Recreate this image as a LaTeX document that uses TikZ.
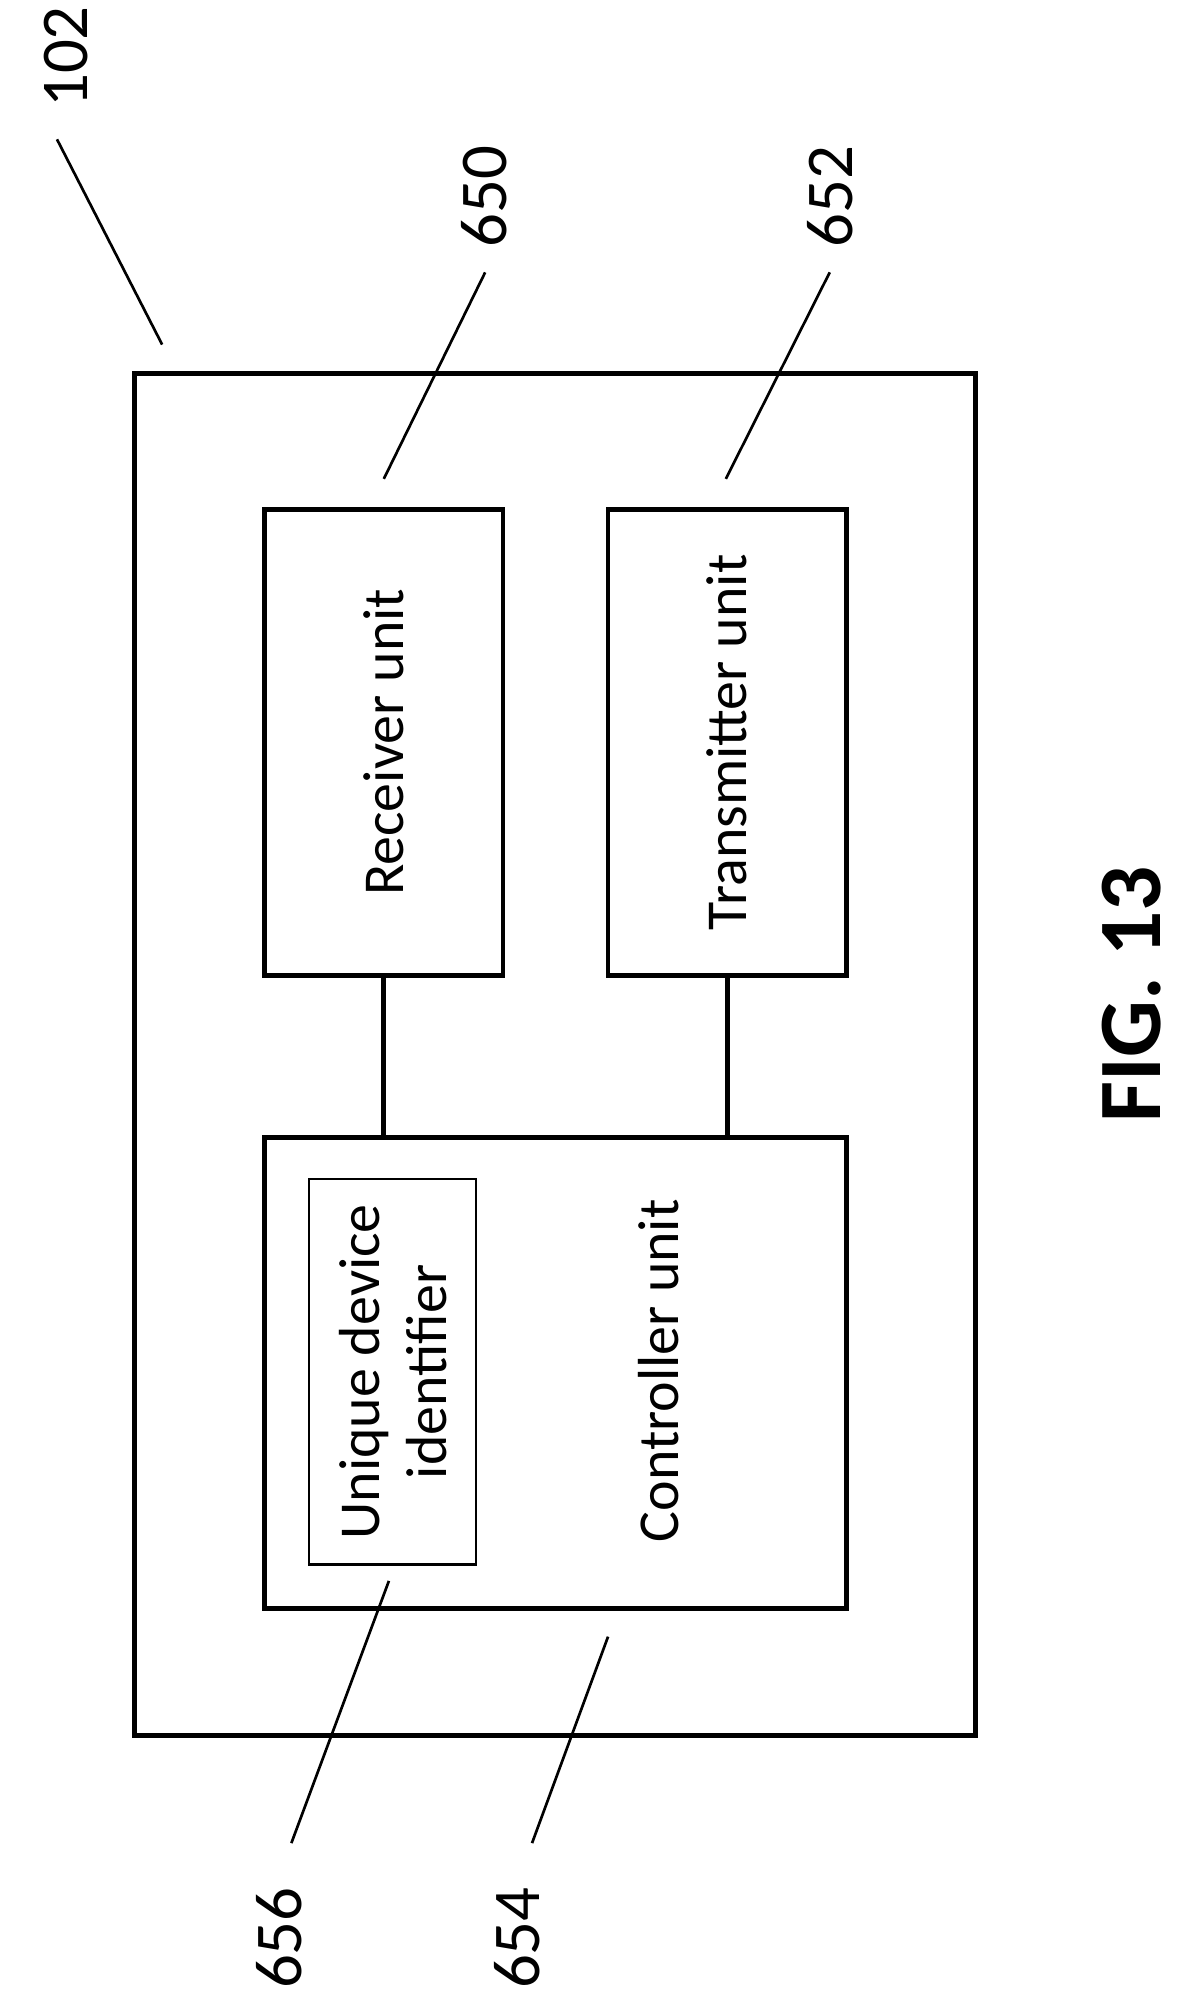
\documentclass[tikz,border=0pt]{standalone}
\usepackage{fontspec}
\setmainfont{Carlito}
\usetikzlibrary{positioning}
\tikzset{
  frame/.style={draw=black, line width=1.1pt},
  inner/.style={draw=black, line width=0.5pt},
  link/.style={draw=black, line width=1.1pt},
  lead/.style={draw=black, line width=0.6pt},
  txt/.style={rotate=90, font=\fontsize{13}{15}\selectfont, align=center},
  num/.style={rotate=90, font=\fontsize{15}{17}\selectfont}
}
\begin{document}
\begin{tikzpicture}[x=0.01cm, y=-0.01cm]
  \useasboundingbox (0,0) rectangle (940,1582);
  % outer device
  \draw[frame] (106,295) rectangle (770,1370);
  % blocks
  \node[frame, minimum width=1.88cm, minimum height=3.68cm] (rx) at (303,586) {};
  \node[txt] at (rx) {Receiver unit};
  \node[frame, minimum width=1.88cm, minimum height=3.68cm] (tx) at (574,586) {};
  \node[txt] at (tx) {Transmitter unit};
  \node[frame, minimum width=4.59cm, minimum height=3.72cm] (ctl) at (438.5,1084) {};
  \node[txt] at (520,1082) {Controller unit};
  \node[inner, minimum width=1.32cm, minimum height=3.04cm] (uid) at (310,1083) {};
  \node[txt] at (uid) {Unique device\\identifier};
  % connectors
  \draw[link] (rx.south) -- (rx.south |- ctl.north);
  \draw[link] (tx.south) -- (tx.south |- ctl.north);
  % reference numerals
  \node[num] (n102) at (52,45) {102};
  \node[num] (n650) at (382,155) {650};
  \node[num] (n652) at (655,155) {652};
  \node[num] (n656) at (220,1530) {656};
  \node[num] (n654) at (408,1530) {654};
  \coordinate (e102) at (128,272);
  \coordinate (e650) at (303,378);
  \coordinate (e652) at (573,378);
  \coordinate (e656) at (307,1248);
  \coordinate (e654) at (480,1292);
  \draw[lead] (45,110) -- (e102);
  \draw[lead] (383,215) -- (e650);
  \draw[lead] (655,215) -- (e652);
  \draw[lead] (230,1455) -- (e656);
  \draw[lead] (420,1455) -- (e654);
  \node[rotate=90, font=\fontsize{20}{22}\selectfont\bfseries] (fig) at (893,785) {FIG. 13};
\end{tikzpicture}
\end{document}
